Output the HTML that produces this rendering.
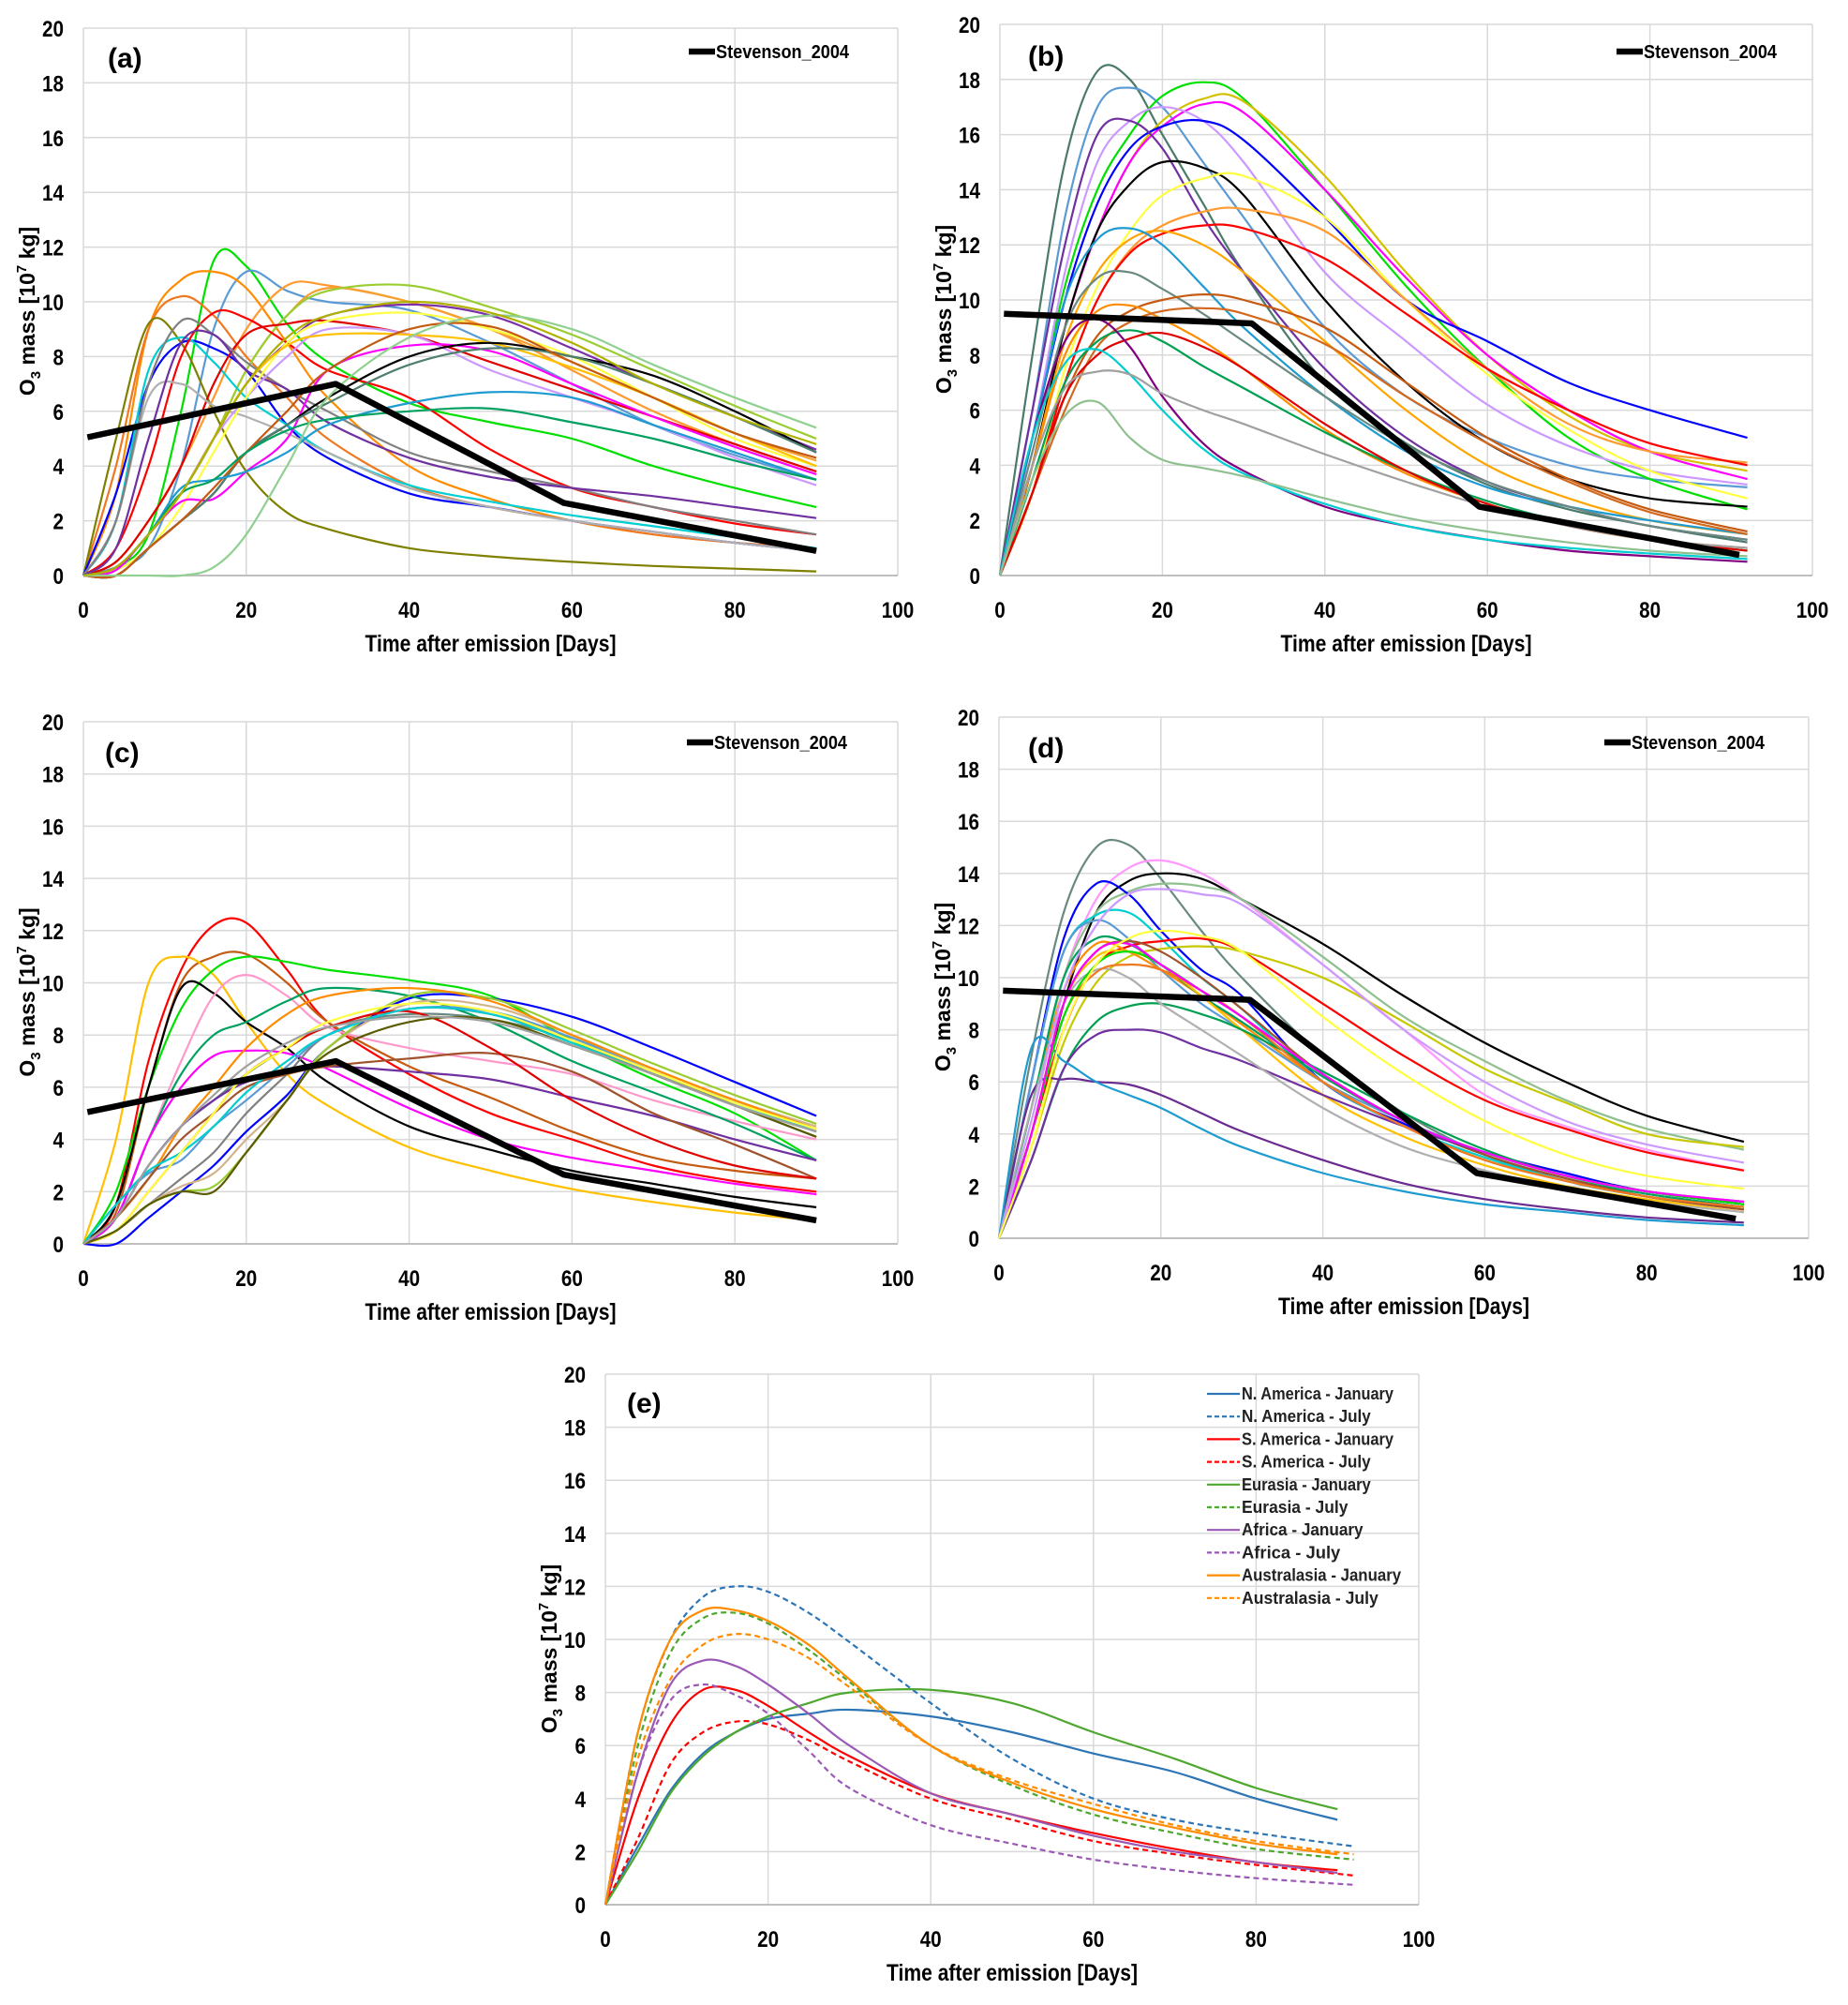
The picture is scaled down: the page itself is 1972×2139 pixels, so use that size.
<!DOCTYPE html>
<html><head><meta charset="utf-8">
<style>
html,body{margin:0;padding:0;background:#fff;}
body{width:1972px;height:2134px;overflow:hidden;}
svg text{font-family:"Liberation Sans Narrow","Liberation Sans",sans-serif;}
</style></head>
<body>
<svg id="fig" width="1972" height="2134" viewBox="0 0 1972 2134" xmlns="http://www.w3.org/2000/svg"></svg>
<script>
// ---- shared data ----
const yTicks = [0,2,4,6,8,10,12,14,16,18,20];
const xTicks = [0,20,40,60,80,100];
const days90 = [0,4,8,12,16,20,25,30,40,50,60,70,80,90];
const days92 = [0,4,8,12,16,20,25,30,40,50,60,70,80,92];
const stevDaysA = [0.5,31,59,90];
const stevValsA = [5.05,7.0,2.65,0.9];
const stevDaysB = [0.5,31,59,91];
const stevValsB = [9.5,9.15,2.5,0.75];

// ---- panel (a) ----
const aColors = ['#00e000','#5b9bd5','#ff8c00','#f07820','#ff9a30','#f5a030','#9acd32','#808000','#0000ff','#00ced1','#ff0000','#e00000','#b0b0b0','#808080','#7030a0','#7b2fa8','#cc99ff','#ffff40','#ffc000','#ff00ff','#000000','#4f7f6f','#c55a11','#1e9bd0','#00a060','#90d090','#b0b000'];
const aValues = [
[0,0.3,1.5,6,11.5,11.3,9.2,7.8,6.3,5.6,5.0,4.0,3.2,2.5],
[0,0.3,1,4,9,11.1,10.4,10,9.7,8.5,7,5.5,4.4,3.5],
[0,3,9,10.8,11.1,10.5,8.5,6.5,4,2.8,2.0,1.5,1.2,0.9],
[0,4,9,10.2,9.5,8,6.5,5,3.3,2.5,2.0,1.5,1.2,1.0],
[0,0.5,2,4,6.5,9,10.6,10.6,10,9,7.5,6,4.8,3.8],
[0,0.3,1.5,3,5,7.5,9.5,10.5,10,9,7.8,6.5,5.2,4.2],
[0,0.3,1.5,3,5,7.5,9.5,10.4,10.6,9.8,8.8,7.5,6.2,5.0],
[0,5,9.2,8.5,6,3.8,2.3,1.7,1.0,0.7,0.5,0.35,0.25,0.15],
[0,3,7,8.5,8.3,7.5,5.5,4.3,3.0,2.5,2.0,1.6,1.2,0.9],
[0,2,7.5,8.7,7.8,6.5,5.5,4.5,3.3,2.7,2.2,1.8,1.4,1.0],
[0,1,4,8,9.6,9.4,8.5,7.5,6.5,4.6,3.2,2.5,1.9,1.5],
[0,0.5,2,4,7,8.8,9.2,9.3,8.8,7.8,6.8,5.8,4.8,3.8],
[0,2,6.5,7,6.2,5.8,5.2,4.5,3.2,2.5,2.0,1.6,1.2,0.9],
[0,2,7,9.3,8.8,7.8,6.8,6,4.5,3.8,3.2,2.5,2.0,1.5],
[0,1,5,8.5,8.8,7.5,6.8,5.6,4.3,3.6,3.2,2.9,2.5,2.1],
[0,0.3,1.5,3,5,7,8.5,9.5,9.9,9.5,8.3,7,5.8,4.6],
[0,0.3,1.5,3,5,6.5,8,9.0,8.8,7.5,6.5,5.5,4.3,3.3],
[0,0.2,1,2.5,4.5,6.5,8.5,9.3,9.6,9,8,6.5,5,4],
[0,0.3,1.5,3,5,7,8.4,8.8,8.8,8.5,7.6,6.5,5.2,4.0],
[0,0.2,1.5,2.7,2.8,3.8,5,7.5,8.4,8.2,7,5.8,4.7,3.7],
[0,0,1,2,3,4.5,5.5,6.5,8,8.5,8,7.3,6,4.5],
[0,0,1,2,3,4.5,5.5,6.3,7.7,8.3,8,7,5.8,4.5],
[0,0,1,2,3.2,4.5,6,7.5,9,9.1,7.8,6.5,5.2,4.3],
[0,0.3,1.5,3.2,3.5,3.8,4.5,5.5,6.3,6.7,6.5,5.5,4.5,3.5],
[0,0.3,1.5,3,3.5,4.5,5.3,5.7,6.0,6.1,5.6,5.0,4.2,3.5],
[0,0,0,0,0.3,1.5,4,6.5,8.7,9.5,9,7.7,6.5,5.4],
[0,0.3,1.5,3,5,7,8.7,9.5,10,9.6,8.5,7,5.8,4.8]
];

// ---- panel (b) ----
const bColors = ['#4a7a6a','#5b9bd5','#00e000','#d4c000','#ff00ff','#cc99ff','#0000ff','#7030a0','#000000','#ffff40','#ff9a30','#ff0000','#ffa500','#1e9bd0','#6a8a80','#c55a11','#ff8c00','#d2691e','#00a050','#e00000','#800080','#00ced1','#a0a0a0','#90c090'];
const bValues = [
[0,8,15,18.3,18,16,13.5,11,7,4.8,3.3,2.4,1.8,1.2],
[0,6,13,17,17.7,17,15,13,9,6.5,5,4,3.5,3.2],
[0,5,10.5,14,16,17.4,17.9,17.3,14,10.5,7.5,5,3.5,2.4],
[0,4,9,12.5,15,16.5,17.3,17.2,14.5,11,8,5.8,4.5,3.8],
[0,4,9,12.5,15,16.3,17.1,16.8,14,10.8,8,6,4.5,3.5],
[0,5,11,15,16.5,17,16.5,15,11,8.5,6.2,4.7,3.8,3.3],
[0,5,10,13.5,15.5,16.3,16.5,15.8,13,10,8.5,7,6,5.0],
[0,6,12,16,16.5,15.5,13,11,7.5,5,3.4,2.5,1.8,1.3],
[0,4,9,12.5,14.2,15,14.8,13.8,10,7,4.8,3.5,2.8,2.5],
[0,3,7.5,10.5,12.5,13.8,14.4,14.5,13,10,7.3,5.3,3.8,2.8],
[0,3,7,10,11.8,12.7,13.2,13.3,12.5,10,7.5,5.5,4.5,4.1],
[0,3,7,10,11.7,12.4,12.7,12.6,11.5,9.5,7.5,6,4.8,4.0],
[0,4,8.5,11,12.2,12.5,12,11,8.5,6,4,2.8,2,1.5],
[0,5,10,12.2,12.6,12,10.5,9,6.5,4.5,3.2,2.5,2,1.5],
[0,4.5,9,10.8,11,10.4,9.5,8.5,6.5,4.7,3.4,2.5,1.8,1.3],
[0,3,6.5,8.7,9.6,10,10.2,10,9,7,5,3.5,2.4,1.6],
[0,4,8,9.6,9.8,9.3,8.5,7.5,5.3,3.7,2.6,1.8,1.3,1.0],
[0,3,6,8.3,9.2,9.6,9.7,9.5,8.4,6.5,4.8,3.4,2.3,1.5],
[0,3.5,7,8.5,8.9,8.5,7.6,6.8,5.2,3.8,2.7,1.9,1.3,0.9],
[0,3,6.5,8,8.6,8.8,8.3,7.5,5.5,3.8,2.6,1.8,1.3,0.9],
[0,5,8.5,9.3,8.3,6.5,4.8,3.8,2.5,1.8,1.3,0.9,0.7,0.5],
[0,5,7.7,8.2,7.3,6,4.6,3.7,2.6,1.8,1.3,1.0,0.8,0.6],
[0,4,6.8,7.4,7.3,6.6,6,5.5,4.4,3.4,2.5,1.8,1.3,1.0],
[0,3.5,5.8,6.3,5,4.2,3.9,3.6,2.8,2.1,1.6,1.2,0.9,0.7]
];

// ---- panel (c) ----
const cColors = ['#ff0000','#c55a11','#ffc000','#00e000','#000000','#ff99cc','#0000ff','#00a060','#ff00ff','#808080','#d2b48c','#9acd32','#ff8c00','#6a8a80','#5b9bd5','#7030a0','#a0522d','#e00000','#00ced1','#ffff40','#5a5a00','#a0a0a0'];
const cValues = [
[0,1.5,7,10.5,12.2,12.3,10.5,8.5,6.5,5,4,3,2.4,2.0],
[0,1.2,6,10,11,11.1,10,8.5,6.8,5.6,4.3,3.3,2.8,2.5],
[0,4,10,11,10.3,8.5,6.5,5.3,3.7,2.8,2.1,1.6,1.2,0.9],
[0,2,6,9,10.5,11,10.8,10.5,10.1,9.5,7.8,6.3,5,3.2],
[0,1.5,6,9.8,9.6,8.5,7.5,6.2,4.5,3.6,2.8,2.3,1.8,1.4],
[0,1,4,7,9.5,10.3,9.5,8.3,7.5,7,6.5,5.5,4.7,4.0],
[0,0,1,2,3,4.3,5.7,7.5,9.4,9.4,8.7,7.5,6.2,4.9],
[0,1,4,6.5,8,8.5,9.3,9.8,9.5,8.5,7,5.8,4.6,3.2],
[0,1,4,6,7.2,7.4,7.3,6.7,5.2,4,3.3,2.8,2.3,1.9],
[0,0.5,1.5,2.5,3.5,5,6.5,8,9,8.8,7.8,6.5,5.3,4.3],
[0,0.5,1.5,2.2,2.7,4,5.5,7.5,9.2,9.1,8,6.7,5.5,4.5],
[0,0.5,1.5,2,2.2,3.5,5.5,7.5,9.5,9.4,8.2,6.9,5.7,4.6],
[0,1,2.5,4.5,6,7.5,8.8,9.5,9.8,9.3,8,6.7,5.5,4.4],
[0,1,3,4.5,5.5,6.5,7.5,8.3,8.8,8.6,7.8,6.5,5.3,4.1],
[0,1.5,2.7,3.2,4.5,5.5,6.8,8,9,8.9,7.9,6.6,5.4,4.3],
[0,1,3,4.5,5.5,6.2,6.6,6.8,6.6,6.3,5.6,4.9,4,3.2],
[0,1,2.5,4,5,6,6.5,6.8,7.1,7.3,6.6,5,3.8,2.5],
[0,0.5,2,3.5,5,6.5,7.5,8.3,8.9,7.5,5.5,4.0,3.0,2.5],
[0,1.5,2.8,3.5,4.5,5.8,7,8,9,8.8,7.7,6.5,5.4,4.3],
[0,0.5,2,3.5,5,6.5,7.5,8.5,9.2,8.9,7.8,6.6,5.4,4.4],
[0,0.5,1.5,2,2,3.5,5.5,7.3,8.5,8.6,7.6,6.5,5.3,4.1],
[0,1,3,4.5,5.7,6.8,7.7,8.3,8.7,8.5,7.6,6.5,5.3,4.3]
];

// ---- panel (d) ----
const dColors = ['#6a8a80','#ff99ff','#000000','#90c090','#0000ff','#00ced1','#5b9bd5','#ff0000','#c8c800','#ff8c00','#00a060','#a0522d','#ffc000','#00a050','#7030a0','#6a2a90','#1e9bd0','#b0b0b0','#f07820','#00e000','#ff00ff','#cc99ff','#ffff40'];
const dValues = [
[0,7,12.5,15,15.1,13.8,11.8,10,7,4.8,3.2,2.2,1.6,1.1],
[0,5,10,13,14.2,14.5,14,13,10.5,8,5.5,4.3,3.4,2.6],
[0,4,9,12.5,13.7,14,13.8,13,11.3,9.3,7.5,6,4.7,3.7],
[0,5,10,12.5,13.3,13.6,13.5,13,10.8,8.5,6.8,5.3,4.2,3.4],
[0,6,11.5,13.6,13.2,11.8,10.3,9.3,6,4.4,3.3,2.5,1.8,1.4],
[0,6,11,12.4,12.5,11.5,10,8.8,6,4.3,3.1,2.2,1.6,1.2],
[0,6,11,12.2,11.5,10.3,9,8,6,4.5,3.3,2.4,1.8,1.4],
[0,4,8,10.5,11.2,11.4,11.5,11,9,7,5.3,4.2,3.3,2.6],
[0,3.5,7.5,9.8,10.8,11.1,11.2,11,10,8.3,6.5,5.2,4,3.5],
[0,5,9.5,11.3,11,10.3,9.3,8.2,6,4.3,3,2.2,1.6,1.1],
[0,5,10,11.5,11.3,10.5,9.3,8.3,6.2,4.5,3.2,2.3,1.7,1.2],
[0,4,9,11,11.4,11,10,8.8,6.3,4.5,3.2,2.3,1.6,1.1],
[0,4,9,10.8,11,10.5,9.3,8,5.5,3.9,2.8,2.0,1.5,1.0],
[0,3,6.5,8.3,8.9,9,8.6,8,6.4,4.8,3.4,2.4,1.8,1.3],
[0,3,6.5,7.8,8,7.9,7.3,6.8,5.5,4.3,3.3,2.4,1.8,1.3],
[0,5.5,6.1,6.0,5.9,5.5,4.8,4.1,3,2.1,1.5,1.1,0.8,0.6],
[0,7.3,6.8,6,5.5,5,4.2,3.5,2.5,1.8,1.3,1,0.7,0.5],
[0,5,9,10.3,10,9,8,7,5,3.5,2.6,1.9,1.4,1.0],
[0,4,8.5,10.2,10.5,10.3,9.5,8.5,6,4.3,3,2.2,1.6,1.2],
[0,4,8.5,10.5,11,10.5,9.5,8.5,6.3,4.5,3.3,2.4,1.8,1.3],
[0,4,9,11,11.3,10.5,9.5,8.5,6.3,4.5,3.3,2.4,1.8,1.4],
[0,4.5,9.5,12,13.2,13.4,13.2,12.8,10.5,8,6,4.5,3.6,2.9],
[0,3.5,8,10.5,11.5,11.8,11.6,11,8.5,6.3,4.5,3.2,2.4,1.9]
];

// ---- panel (e) ----
const eNames = ['N. America - January','N. America - July','S. America - January','S. America - July','Eurasia - January','Eurasia - July','Africa - January','Africa - July','Australasia - January','Australasia - July'];
const eColors = ['#2e75b6','#2e75b6','#ff0000','#ff0000','#4ea72e','#4ea72e','#9b59b6','#9b59b6','#ff8c00','#ff8c00'];
const eDashed = [false,true,false,true,false,true,false,true,false,true];
const eValues = [
[0,2.2,4.3,5.7,6.5,7,7.2,7.35,7.1,6.5,5.7,5,4,3.2],
[0,6.5,10,11.6,12,11.8,11,9.9,7.6,5.5,4.0,3.2,2.7,2.2],
[0,4,6.8,8.1,8.1,7.5,6.5,5.6,4.2,3.4,2.7,2.1,1.6,1.3],
[0,2.5,5.3,6.5,6.9,6.8,6.2,5.4,4,3.2,2.4,1.9,1.5,1.1],
[0,2,4.2,5.6,6.5,7.1,7.6,8,8.1,7.6,6.5,5.5,4.4,3.6],
[0,6,9.5,10.8,11,10.6,9.6,8.4,6,4.5,3.4,2.7,2.1,1.7],
[0,5,8.3,9.2,9,8.3,7.2,6,4.2,3.4,2.6,2.0,1.6,1.2],
[0,5,7.7,8.3,7.9,7.2,5.8,4.4,3,2.3,1.7,1.3,1.0,0.75],
[0,6.5,10,11.1,11.1,10.7,9.8,8.5,6,4.6,3.6,2.9,2.3,1.9],
[0,5.5,8.5,9.8,10.2,10,9.3,8.2,6,4.7,3.8,3.0,2.4,1.9]
];
const eEndDay = [90,92,90,92,90,92,90,92,90,92];

// ---- drawing ----
const NS = 'http://www.w3.org/2000/svg';
const svg = document.getElementById('fig');
function mk(tag, attrs, parent){
  const e = document.createElementNS(NS, tag);
  for (const k in attrs) e.setAttribute(k, attrs[k]);
  (parent||svg).appendChild(e);
  return e;
}
function smoothPath(pts){
  let d = 'M' + pts[0][0].toFixed(1) + ',' + pts[0][1].toFixed(1);
  for (let i=0;i<pts.length-1;i++){
    const p0 = pts[Math.max(0,i-1)], p1 = pts[i], p2 = pts[i+1], p3 = pts[Math.min(pts.length-1,i+2)];
    const c1x = p1[0] + (p2[0]-p0[0])/6, c1y = p1[1] + (p2[1]-p0[1])/6;
    const c2x = p2[0] - (p3[0]-p1[0])/6, c2y = p2[1] - (p3[1]-p1[1])/6;
    d += ' C' + c1x.toFixed(1)+','+c1y.toFixed(1)+' '+c2x.toFixed(1)+','+c2y.toFixed(1)+' '+p2[0].toFixed(1)+','+p2[1].toFixed(1);
  }
  return d;
}

function drawPanel(P){
  const g = mk('g', {});
  
  
  const sx = v => P.x0 + (P.x1 - P.x0) * v / 100;
  const sy = v => P.y0 - (P.y0 - P.y1) * v / 20;
  for (const t of yTicks){
    const l = mk('line', {x1:sx(0), x2:sx(100), y1:sy(t), y2:sy(t), stroke:'#d9d9d9', 'stroke-width':1.5}, g);
    
    
    const tx = mk('text', {x:sx(0)-21, y:sy(t)+9, 'text-anchor':'end', 'font-size':24, 'font-weight':'bold', fill:'#000', textLength:String(t).length*11.5, lengthAdjust:'spacingAndGlyphs'}, g);
    tx.textContent = t;
    
    
  }
  for (const t of xTicks){
    const l = mk('line', {x1:sx(t), x2:sx(t), y1:sy(0), y2:sy(20), stroke:'#d9d9d9', 'stroke-width':1.5}, g);
    
    
    const tx = mk('text', {x:sx(t), y:sy(0)+45, 'text-anchor':'middle', 'font-size':24, 'font-weight':'bold', fill:'#000', textLength:String(t).length*11.5, lengthAdjust:'spacingAndGlyphs'}, g);
    tx.textContent = t;
    
    
  }
  const ax = mk('line', {x1:sx(0), x2:sx(100), y1:sy(0), y2:sy(0), stroke:'#bfbfbf', 'stroke-width':2}, g);
  
  
  const xt = mk('text', {x:(sx(0)+sx(100))/2, y:sy(0)+81, 'text-anchor':'middle', 'font-size':25, 'font-weight':'bold', textLength:268, lengthAdjust:'spacingAndGlyphs'}, g);
  xt.textContent = 'Time after emission [Days]';
  
  
  const cy = (sy(0)+sy(20))/2 + 10;
  const yt = mk('text', {x:0, y:0, transform:'translate(' + (P.x0-52) + ',' + cy + ') rotate(-90)', 'text-anchor':'middle', 'font-size':23, 'font-weight':'bold', style:'font-family:"Liberation Sans",sans-serif'}, g);
  yt.innerHTML = 'O<tspan font-size="15" dy="6">3</tspan><tspan dy="-6"> mass [10</tspan><tspan font-size="15" dy="-9">7</tspan><tspan dy="9"> kg]</tspan>';
  
  
  const pl = mk('text', {x:P.labX, y:P.labY, 'font-size':30, 'font-weight':'bold'}, g);
  pl.textContent = '(' + P.id + ')';
  
  
  for (let i=0;i<P.values.length;i++){
    const days = P.days.slice();
    if (P.endDays) days[days.length-1] = P.endDays[i];
    const pts = P.values[i].map((v,k) => [sx(days[k]), sy(Math.max(0,v))]);
    const attrs = {d:smoothPath(pts), fill:'none', stroke:P.colors[i], 'stroke-width':2.2, 'stroke-linejoin':'round'};
    if (P.dashed && P.dashed[i]) attrs['stroke-dasharray'] = '6,4';
    const p = mk('path', attrs, g);
    
    
  }
  if (P.stevD){
    const pts = P.stevD.map((d,k) => sx(d).toFixed(1)+','+sy(P.stevV[k]).toFixed(1)).join(' ');
    const s = mk('polyline', {points:pts, fill:'none', stroke:'#000', 'stroke-width':6.5, 'stroke-linejoin':'round'}, g);
    
    
    const ll = mk('line', {x1:P.legX, x2:P.legX+28, y1:P.legY, y2:P.legY, stroke:'#000', 'stroke-width':6.5}, g);
    
    
    const lt = mk('text', {x:P.legX+29, y:P.legY+7, 'font-size':20, 'font-weight':'bold', textLength:142, lengthAdjust:'spacingAndGlyphs'}, g);
    lt.textContent = 'Stevenson_2004';
    
    
  }
  if (P.legendNames){
    for (let i=0;i<P.legendNames.length;i++){
      const y = 1487 + i*24.2;
      const attrs = {x1:1288, x2:1323, y1:y, y2:y, stroke:P.colors[i], 'stroke-width':2.2};
      if (P.dashed[i]) attrs['stroke-dasharray'] = '5,3';
      const ll = mk('line', attrs, g);
      
      
      const lt = mk('text', {x:1325, y:y+6, 'font-size':18, 'font-weight':'bold', fill:'#222', textLength:P.legendNames[i].length*8.1, lengthAdjust:'spacingAndGlyphs'}, g);
      lt.textContent = P.legendNames[i];
      
      
    }
  }
}

drawPanel({id:'a', x0:89, x1:958, y0:614, y1:30, days:days90, values:aValues, colors:aColors, stevD:stevDaysA, stevV:stevValsA, legX:735, legY:55, labX:115, labY:72});
drawPanel({id:'b', x0:1067, x1:1934, y0:614, y1:26, days:days92, values:bValues, colors:bColors, stevD:stevDaysB, stevV:stevValsB, legX:1725, legY:55, labX:1097, labY:70});
drawPanel({id:'c', x0:89, x1:958, y0:1327, y1:770, days:days90, values:cValues, colors:cColors, stevD:stevDaysA, stevV:stevValsA, legX:733, legY:792, labX:112, labY:813});
drawPanel({id:'d', x0:1066, x1:1930, y0:1321, y1:765, days:days92, values:dValues, colors:dColors, stevD:stevDaysB, stevV:stevValsB, legX:1712, legY:792, labX:1097, labY:808});
drawPanel({id:'e', x0:646, x1:1514, y0:2032, y1:1466, days:days90, endDays:eEndDay, values:eValues, colors:eColors, dashed:eDashed, legendNames:eNames, labX:669, labY:1507});
</script>
</body></html>
